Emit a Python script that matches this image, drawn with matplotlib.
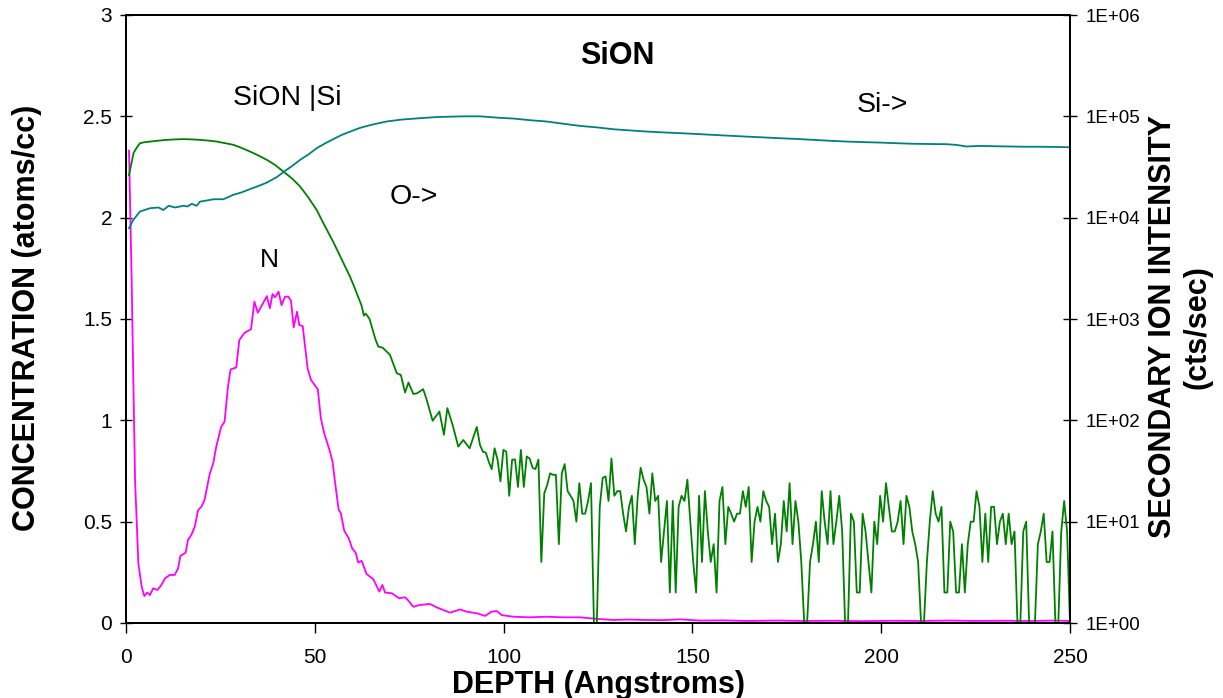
import numpy as np
import matplotlib.pyplot as plt
from matplotlib.ticker import NullLocator

plt.rcParams['font.family'] = ['Liberation Sans', 'DejaVu Sans']

# N concentration (left axis)
N_depth = [0.8, 1.5, 1.94, 2.4, 3.27, 4.15, 4.85, 5.6, 6.35, 7.2, 8.3, 9.4, 10.3, 11.6, 12.9,
           13.8, 14.4, 15.8, 16.4, 17.3, 18.2, 19.1, 20.0, 20.8, 22.2, 23.1, 23.9, 25.2, 26.1,
           27.0, 27.7, 29.2, 30.0, 31.4, 33.1, 34.0, 34.9, 36.0, 37.3, 38.1, 38.8, 39.5, 40.4,
           41.2, 42.1, 43.0, 43.7, 44.4, 45.3, 45.9, 46.8, 48.1, 49.0, 50.8, 51.6, 52.5, 53.9,
           54.7, 55.4, 56.3, 56.9, 57.8, 59.0, 59.9, 60.8, 61.5, 62.4, 63.7, 65.5, 67.1, 67.9,
           68.6, 70.4, 72.3, 73.9, 74.8, 76.1, 77.8, 80.5, 82.3, 85.8, 88.5, 90.2, 92.9, 95.1,
           96.8, 98.2, 99.5, 102.6, 107, 111.4, 115.8, 120.2, 125, 129, 133, 137.8, 142, 146.7,
           152, 158, 165, 172, 180, 188, 195, 203, 210, 218, 225, 232, 240, 246, 250]
N_conc = [2.33, 1.69, 1.2, 0.705, 0.294, 0.179, 0.133, 0.15, 0.138, 0.171, 0.163, 0.188, 0.22,
          0.237, 0.237, 0.27, 0.331, 0.347, 0.41, 0.434, 0.475, 0.557, 0.574, 0.607, 0.738,
          0.788, 0.87, 0.968, 0.993, 1.166, 1.251, 1.261, 1.396, 1.432, 1.449, 1.585, 1.531,
          1.568, 1.613, 1.553, 1.623, 1.607, 1.635, 1.568, 1.61, 1.61, 1.59, 1.459, 1.536, 1.47,
          1.465, 1.256, 1.199, 1.153, 1.01, 0.936, 0.853, 0.796, 0.689, 0.561, 0.541, 0.455,
          0.418, 0.368, 0.347, 0.298, 0.307, 0.242, 0.216, 0.155, 0.188, 0.15, 0.147, 0.122,
          0.127, 0.11, 0.08, 0.089, 0.094, 0.077, 0.051, 0.067, 0.056, 0.048, 0.035, 0.056,
          0.059, 0.039, 0.031, 0.028, 0.031, 0.028, 0.028, 0.02, 0.015, 0.017, 0.015, 0.014,
          0.018, 0.012, 0.013, 0.01, 0.012, 0.01, 0.011, 0.009, 0.011, 0.01, 0.012, 0.01,
          0.011, 0.01, 0.012, 0.01]

# Si counts (right axis)
Si_depth = [0.8, 1.94, 3.7, 6.4, 8.6, 9.9, 11.3, 13.0, 15.2, 16.3, 17.4, 18.7, 19.6, 21.5, 23.2,
            25.8, 28.4, 30.5, 32.8, 35, 37.3, 39.9, 42.5, 44.3, 46.1, 48.3, 50.5, 52.7, 54.9,
            57.1, 59.3, 62, 65, 69, 73, 77.9, 82, 86.7, 90, 93.75, 95.5, 99, 102.6, 107,
            111.4, 116, 120.2, 125, 129, 133, 137.8, 142, 146.7, 151, 155.5, 160, 164.3, 169,
            173.2, 178, 182, 186, 190.8, 195, 199.6, 204, 208.5, 213, 217.3, 220, 222.6, 226.1,
            230, 234, 238, 242, 246, 250]
Si_counts = [7870, 9510, 11500, 12400, 12600, 11900, 13100, 12600, 13100, 12900, 13700, 13100,
             14400, 14800, 15200, 15200, 16800, 17700, 19100, 20500, 22200, 25100, 29600, 33000,
             37200, 42000, 48500, 54000, 59600, 65500, 70500, 77000, 82500, 88900, 92900, 95900,
             98200, 99500, 100000, 100000, 98900, 96600, 95100, 91600, 88900, 84300, 80500,
             77600, 74600, 72800, 70800, 69500, 68200, 67000, 65600, 64300, 63100, 61900, 60800,
             59700, 58600, 57500, 56400, 55700, 55100, 54300, 53600, 53300, 53100, 52200, 50400,
             51100, 50700, 50400, 50100, 50100, 49900, 49500]

# O counts (right axis): smooth head, then noisy tail sampled every ~0.77 A
O_head_depth = [0.8, 1.5, 2.0, 3.0, 3.7, 5.0, 6.4, 8.5, 10.8, 13.0, 15.2, 17.5, 19.6, 22.0, 24.0,
                26.0, 28.4, 30.5, 32.8, 35.0, 37.3, 39.5, 41.7, 44.0, 46.1, 48.2, 50.5, 52.5,
                54.9, 57.6, 59.3, 60.6, 62.4, 63.0, 63.5, 64.5, 66.0, 66.8, 68.0, 69.9, 71.7,
                72.8, 73.9, 74.8, 76.1, 77.1, 78.7, 79.6, 81.2, 83.0, 84.2, 85.1, 86.5, 88.0,
                89.3, 91.0, 92.9]
O_head_counts = [26300, 35500, 43600, 50100, 54300, 55600, 56400, 57500, 58600, 59200, 59600,
                 59200, 58600, 57500, 56400, 54600, 52400, 49000, 45000, 41200, 37200, 33100,
                 28500, 24300, 20300, 16000, 11900, 8500, 5750, 3550, 2630, 2010, 1350, 1080,
                 1130, 1000, 640, 535, 520, 443, 292, 280, 188, 236, 182, 185, 203, 161, 99, 122,
                 72, 132, 90, 55, 64, 53, 86]
O_tail_start = 93.75
O_tail_counts = [57, 49, 48, 39, 33, 53, 41, 25, 51, 49, 18, 41, 41, 22, 51, 22, 44, 42, 34, 33,
                 41, 4, 19, 23, 30, 29, 29, 6, 30, 37, 20, 18, 16, 10, 24, 12, 12, 16, 24, 1,
                 1, 14, 27, 28, 16, 42, 18, 20, 20, 12, 8, 14, 18, 6, 18, 34, 26, 22, 12, 30,
                 16, 18, 4, 8, 16,
                 2, 16, 2, 14, 18, 16, 26, 10, 4, 2, 18, 4, 20, 8, 4, 6, 2, 16, 22, 6,
                 14, 12, 10, 12, 12, 20, 14, 22, 4, 10, 14, 10, 20, 16, 14, 6, 12, 4, 6, 16,
                 8, 24, 6, 16, 10, 4, 1, 1, 4, 6, 10, 4, 20, 10, 6, 20, 6, 10, 18, 8,
                 1, 1, 12, 10, 2,
                 2, 12, 8, 4, 2, 10, 6, 18, 10, 24, 14, 8, 8, 10, 16, 6, 18, 14, 8, 6,
                 4, 1, 1, 4, 10, 20, 12, 10, 14, 2, 2, 10, 8, 2, 2, 6, 2, 6, 10, 10,
                 20, 14, 4, 12, 4, 14, 14, 6, 10, 12, 6, 12, 6, 8, 1, 1, 8, 10, 1, 1,
                 1, 6, 8, 12, 4, 4, 8, 1, 1, 8, 16, 8, 1]

O_tail_depth = np.linspace(O_tail_start, 250, len(O_tail_counts))
O_depth = np.concatenate([O_head_depth, O_tail_depth])
O_counts = np.concatenate([O_head_counts, O_tail_counts])

conc_ticks = [0, 0.5, 1, 1.5, 2, 2.5, 3]
conc_labels = ['0', '0.5', '1', '1.5', '2', '2.5', '3']
int_ticks = [1, 10, 100, 1e3, 1e4, 1e5, 1e6]
int_labels = ['1E+00', '1E+01', '1E+02', '1E+03', '1E+04', '1E+05', '1E+06']
depth_ticks = [0, 50, 100, 150, 200, 250]

fig = plt.figure(figsize=(12.23, 6.98), dpi=100)
ax = fig.add_axes([126/1223, 1 - 623/698, 944/1223, 608/698])

ax.plot(N_depth, N_conc, color='#FF00FF', lw=1.3)
ax.set_xlim(0, 250)
ax.set_ylim(0, 3)
ax.set_xticks(depth_ticks)
ax.set_xticklabels([str(t) for t in depth_ticks])
ax.set_yticks(conc_ticks)
ax.set_yticklabels(conc_labels)
ax.tick_params(axis='y', direction='inout', length=8, width=1, labelsize=15, pad=6)
ax.tick_params(axis='x', direction='out', length=7, width=1, labelsize=15, pad=11)

ax2 = ax.twinx()
ax2.plot(O_depth, O_counts, color='#008000', lw=1.3)
ax2.plot(Si_depth, Si_counts, color='#008080', lw=1.3)
ax2.set_yscale('log')
ax2.set_ylim(1, 1e6)
ax2.set_yticks(int_ticks)
ax2.set_yticklabels(int_labels)
ax2.yaxis.set_minor_locator(NullLocator())
ax2.tick_params(axis='y', direction='inout', length=10, width=1, labelsize=13.5, pad=6)

for a in (ax, ax2):
    for s in a.spines.values():
        s.set_linewidth(1.3)

ax.text(130, 2.80, 'SiON', fontsize=22, fontweight='bold', ha='center', va='center')
ax.text(28.3, 2.59, 'SiON |Si', fontsize=20.5, ha='left', va='center')
ax.text(69.9, 2.10, 'O->', fontsize=20.5, ha='left', va='center')
ax.text(38.1, 1.79, 'N', fontsize=19, ha='center', va='center')
ax.text(193.6, 2.555, 'Si->', fontsize=20.5, ha='left', va='center')

fig.text(27/1223, 1 - 318/698, 'CONCENTRATION (atoms/cc)', rotation=90, fontsize=22,
         fontweight='bold', ha='center', va='center')
fig.text(1180/1223, 1 - 327/698, 'SECONDARY ION INTENSITY\n(cts/sec)', rotation=90,
         fontsize=22, fontweight='bold', ha='center', va='center', multialignment='center')
fig.text(598/1223, 1 - 685/698, 'DEPTH (Angstroms)', fontsize=22, fontweight='bold',
         ha='center', va='center')

fig.savefig('out.png', dpi=100)
